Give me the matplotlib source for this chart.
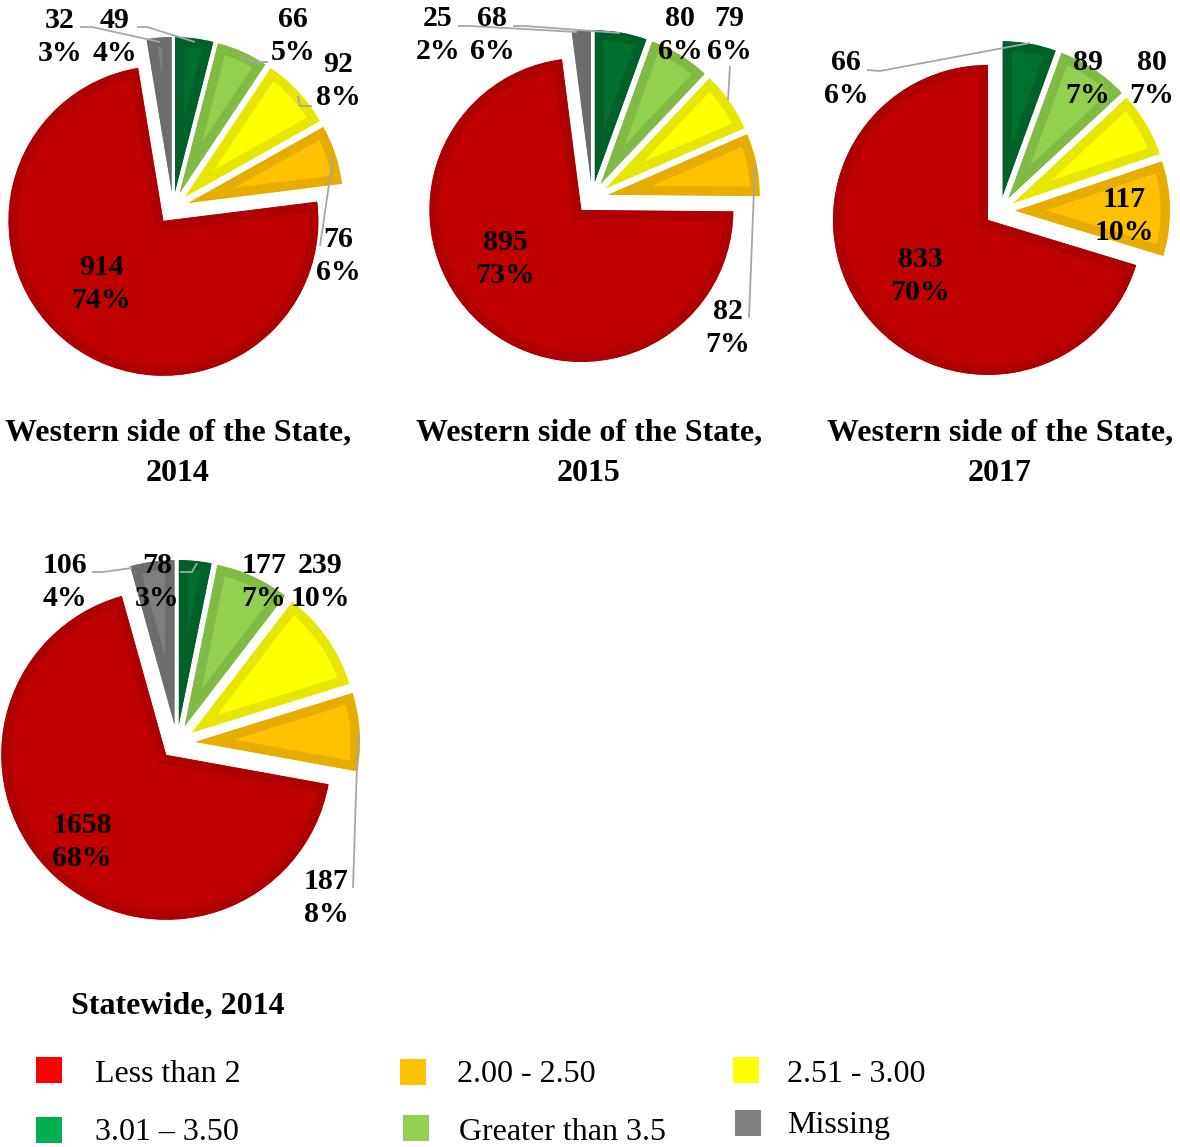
import matplotlib
matplotlib.use("Agg")
import matplotlib.pyplot as plt
from matplotlib.patches import Rectangle

W, H = 1180, 1147
SERIF = "Liberation Serif"

# slice order, clockwise from 12 o'clock
categories = ["3.01 – 3.50", "Greater than 3.5", "2.51 - 3.00", "2.00 - 2.50", "Less than 2", "Missing"]
fills = ["#00702F", "#92D050", "#FFFF00", "#FFC000", "#C00000", "#7F7F7F"]
edges = ["#00602A", "#80BC45", "#E6E600", "#E6AC00", "#AE0000", "#6D6D6D"]

west_2014 = [49, 66, 92, 76, 914, 32]
west_2014_pct = [4, 5, 8, 6, 74, 3]
west_2015 = [68, 80, 79, 82, 895, 25]
west_2015_pct = [6, 6, 6, 7, 73, 2]
west_2017 = [66, 89, 80, 117, 833]
west_2017_pct = [6, 7, 7, 10, 70]
state_2014 = [78, 177, 239, 187, 1658, 106]
state_2014_pct = [3, 7, 10, 8, 68, 4]

legend_labels = ["Less than 2", "2.00 - 2.50", "2.51 - 3.00",
                 "3.01 – 3.50", "Greater than 3.5", "Missing"]
legend_colors = ["#FF0000", "#FFC000", "#FFFF00", "#00B050", "#92D050", "#808080"]


def draw_pie(ax, values, pcts, center, radius, gaps, label_pos, leaders):
    """Exploded pie with an inner darker rim, Excel style. Coordinates in pixels (top-left origin)."""
    cx, cy = center
    n = len(values)
    wedges, _ = ax.pie(values, colors=fills[:n], startangle=90, counterclock=False,
                       center=(cx, H - cy), radius=radius, explode=gaps,
                       frame=True, wedgeprops=dict(linewidth=13.5, joinstyle="miter"))
    for w, ec in zip(wedges, edges[:n]):
        w.set_edgecolor(ec)
        w.set_clip_on(True)
        w.set_clip_path(w)  # keep only the inner half of the stroke

    for pts in leaders:
        ax.plot([p[0] for p in pts], [H - p[1] for p in pts], color="#A6A6A6", lw=1.3,
                solid_capstyle="butt", zorder=3)

    for v, p, (x, y) in zip(values, pcts, label_pos):
        ax.text(x, H - y, f"{v}\n{p}%", ha="center", va="center", fontsize=21.5,
                fontweight="bold", family=SERIF, linespacing=1.32, zorder=4)


fig = plt.figure(figsize=(W / 100, H / 100), dpi=100)
ax = fig.add_axes([0, 0, 1, 1])

draw_pie(ax, west_2014, west_2014_pct, (173, 208), 155, [16] * 6,
         [(115, 37), (293, 36), (338, 81), (338, 256), (101, 284), (60, 37)],
         [[(80, 27), (92, 27), (160, 42)],
          [(137, 27), (147, 27), (195, 42)],
          [(268, 62), (257, 62), (240, 57)],
          [(312, 106), (300, 106), (298, 96)],
          [(320, 246), (333, 157)]])

draw_pie(ax, west_2015, west_2015_pct, (592, 198), 152, [16] * 6,
         [(492, 35), (680, 35), (729, 35), (728, 328), (505, 259), (438, 35)],
         [[(458, 26), (470, 26), (577, 32)],
          [(513, 26), (525, 26), (620, 33)],
          [(730, 66), (728, 100)],
          [(749, 318), (755, 163)]])

draw_pie(ax, west_2017, west_2017_pct, (1000, 211), 155, [15] * 5,
         [(846, 79), (1088, 79), (1152, 79), (1124, 216), (920, 276)],
         [[(867, 70), (880, 71), (1030, 43)]])

draw_pie(ax, state_2014, state_2014_pct, (177, 743), 165, [18, 18, 18, 18, 16, 18],
         [(157, 582), (264, 582), (320, 582), (326, 898), (82, 842), (65, 582)],
         [[(92, 572), (103, 572), (132, 568)],
          [(180, 572), (192, 572), (197, 563)],
          [(353, 888), (358, 733)]])

# chart titles
for x, year in [(178, 2014), (589, 2015), (1000, 2017)]:
    ax.text(x, H - 453, f"Western side of the State,\n{year}", ha="center", va="center",
            fontsize=23, fontweight="bold", family=SERIF, linespacing=1.55)
ax.text(178, H - 1006, "Statewide, 2014", ha="center", va="center",
        fontsize=23, fontweight="bold", family=SERIF)

# legend
legend_pos = [(36, 1057, 95, 1075), (400, 1059, 457, 1075), (733, 1057, 787, 1075),
              (36, 1117, 95, 1133), (403, 1115, 459, 1133), (735, 1110, 787, 1126)]
for lab, col, (sx, sy, tx, ty) in zip(legend_labels, legend_colors, legend_pos):
    ax.add_patch(Rectangle((sx, H - sy - 26), 26, 26, color=col, lw=0))
    ax.text(tx, H - ty, lab, ha="left", va="center", fontsize=23, family=SERIF)

ax.set_xlim(0, W)
ax.set_ylim(0, H)
ax.set_aspect("auto")
ax.axis("off")

fig.savefig("out.png", dpi=100)
